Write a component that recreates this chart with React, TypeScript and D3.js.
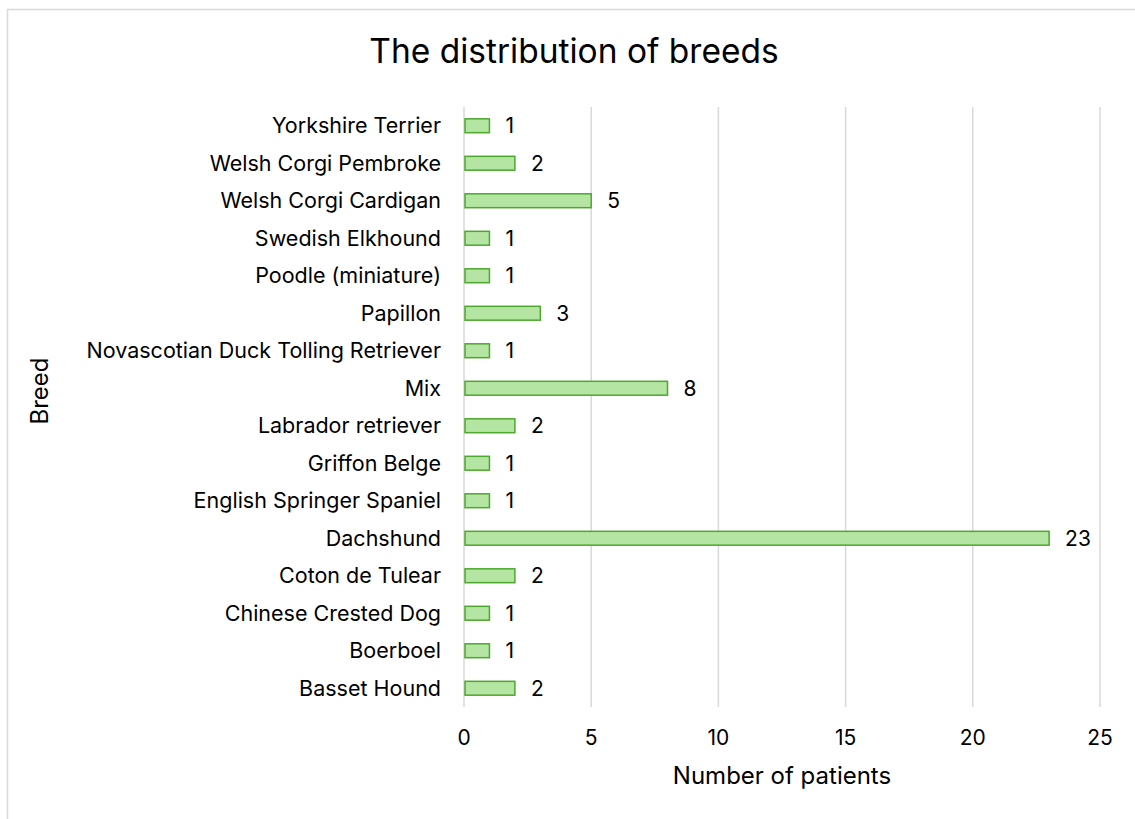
import React from "react";
import * as d3 from "d3";

const breeds = [
  "Yorkshire Terrier",
  "Welsh Corgi Pembroke",
  "Welsh Corgi Cardigan",
  "Swedish Elkhound",
  "Poodle (miniature)",
  "Papillon",
  "Novascotian Duck Tolling Retriever",
  "Mix",
  "Labrador retriever",
  "Griffon Belge",
  "English Springer Spaniel",
  "Dachshund",
  "Coton de Tulear",
  "Chinese Crested Dog",
  "Boerboel",
  "Basset Hound",
];
const patients = [1, 2, 5, 1, 1, 3, 1, 8, 2, 1, 1, 23, 2, 1, 1, 2];
const xTicks = [0, 5, 10, 15, 20, 25];

const W = 1135;
const H = 819;
const plot = { left: 464, right: 1100, top: 107, bottom: 707 };
const FONT = "Inter, 'Open Sans', 'Liberation Sans', sans-serif";

export default function App() {
  const x = d3.scaleLinear().domain([0, 25]).range([plot.left, plot.right]);
  const y = d3
    .scaleBand<string>()
    .domain(breeds)
    .range([plot.top, plot.bottom])
    .paddingInner(0.63)
    .paddingOuter(0.315);
  const bh = y.bandwidth();

  return (
    <svg
      width={W}
      height={H}
      style={{ position: "absolute", left: 0, top: 0 }}
      fontFamily={FONT}
    >
      <rect x={0} y={0} width={W} height={H} fill="#fff" />
      <line x1={7.5} y1={9} x2={7.5} y2={H} stroke="#d9d9d9" strokeWidth={1.5} />
      <line x1={7} y1={9.5} x2={W} y2={9.5} stroke="#d9d9d9" strokeWidth={1.5} />

      <text x={574} y={63} textAnchor="middle" fontSize={33.5} fill="#000">
        The distribution of breeds
      </text>

      {xTicks.map((t) => (
        <g key={t}>
          <line
            x1={x(t)}
            x2={x(t)}
            y1={plot.top}
            y2={plot.bottom}
            stroke="#d9d9d9"
            strokeWidth={1.5}
          />
          <text x={x(t)} y={745} textAnchor="middle" fontSize={21} fill="#000">
            {t}
          </text>
        </g>
      ))}

      {breeds.map((b, i) => {
        const yy = y(b)!;
        const v = patients[i];
        return (
          <g key={b}>
            <rect
              x={x(0) + 1}
              y={yy}
              width={x(v) - x(0) - 1}
              height={bh}
              fill="#b4e5a2"
              stroke="#4ea72e"
              strokeWidth={1.5}
            />
            <text
              x={441}
              y={yy + bh / 2}
              dy="0.35em"
              textAnchor="end"
              fontSize={21.5}
              fill="#000"
            >
              {b}
            </text>
            <text
              x={x(v) + 16}
              y={yy + bh / 2}
              dy="0.35em"
              fontSize={21}
              fill="#000"
            >
              {v}
            </text>
          </g>
        );
      })}

      <text x={782} y={784} textAnchor="middle" fontSize={24} fill="#000">
        Number of patients
      </text>
      <text
        transform="translate(48,391) rotate(-90)"
        textAnchor="middle"
        fontSize={24}
        fill="#000"
      >
        Breed
      </text>
    </svg>
  );
}
